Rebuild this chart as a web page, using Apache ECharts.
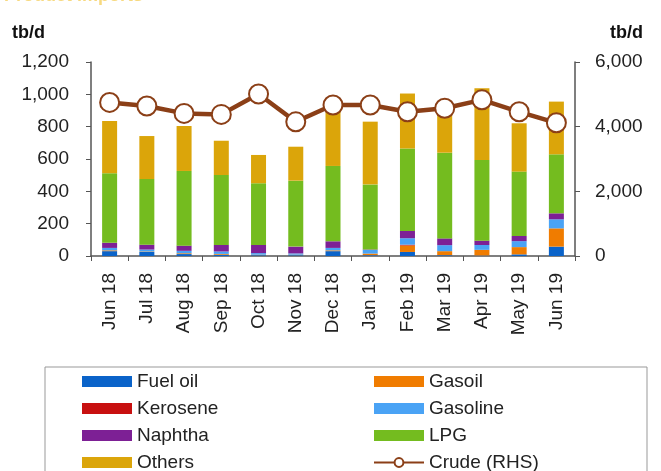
<!DOCTYPE html>
<html>
<head>
<meta charset="utf-8">
<script src="https://cdn.jsdelivr.net/npm/echarts@6/dist/echarts.min.js"></script>
<style>
  html, body { margin: 0; padding: 0; background: #fff; }
  #chart { width: 661px; height: 471px; }
</style>
</head>
<body>
<div id="chart"></div>
<script>
// months on the x axis
const months = ['Jun 18', 'Jul 18', 'Aug 18', 'Sep 18', 'Oct 18', 'Nov 18', 'Dec 18',
  'Jan 19', 'Feb 19', 'Mar 19', 'Apr 19', 'May 19', 'Jun 19'];

// product imports, tb/d (left axis), stacked bottom to top
const fuelOil  = [30, 25, 12, 8, 5, 5, 30, 5, 25, 5, 3, 10, 58];
const gasoil   = [5, 3, 5, 5, 3, 3, 5, 10, 40, 25, 35, 45, 113];
const kerosene = [0, 0, 0, 0, 0, 0, 0, 0, 5, 0, 0, 0, 0];
const gasoline = [15, 12, 15, 15, 10, 8, 15, 22, 40, 37, 30, 37, 56];
const naphtha  = [32, 30, 32, 40, 50, 42, 41, 3, 45, 42, 27, 32, 37];
const lpg      = [430, 406, 462, 433, 382, 408, 466, 403, 510, 530, 499, 398, 365];
const others   = [323, 266, 278, 212, 175, 210, 360, 388, 340, 261, 443, 299, 326];

// crude imports, tb/d (right axis)
const crude = [4750, 4640, 4410, 4380, 5010, 4150, 4670, 4670, 4460, 4570, 4830, 4460, 4120];

const FONT = '"Liberation Sans", Arial, sans-serif';
const axisColor = '#555';

const chart = echarts.init(document.getElementById('chart'));

function barSeries(name, data, color) {
  return {
    name: name,
    type: 'bar',
    stack: 'products',
    barWidth: 15,
    itemStyle: { color: color },
    data: data
  };
}

const withComma = v => v.toLocaleString('en-US');

// two legend columns, same look; bars get plain rect swatches
function legendColumn(left, names) {
  return {
    orient: 'vertical',
    left: left, top: 372, height: 140,
    padding: 0,
    itemWidth: 50, itemHeight: 11, itemGap: 8,
    textStyle: { fontSize: 19, color: '#222', fontFamily: FONT },
    data: names.map(n => n === 'Crude (RHS)' ? { name: n } : { name: n, icon: 'rect' })
  };
}

const option = {
  animation: false,
  textStyle: { fontFamily: FONT },
  grid: { left: 91, right: 86, top: 62, bottom: 215 },
  legend: [
    legendColumn(82, ['Fuel oil', 'Kerosene', 'Naphtha', 'Others']),
    legendColumn(373, ['Gasoil', 'Gasoline', 'LPG', 'Crude (RHS)'])
  ],
  graphic: [
    {
      type: 'rect', silent: true, z: -1,
      shape: { x: 45, y: 367, width: 602, height: 120 },
      style: { fill: 'none', stroke: '#999', lineWidth: 1 }
    },
    {
      type: 'text', left: 12, top: 24,
      style: { text: 'tb/d', font: 'bold 18px ' + FONT, fill: '#111' }
    },
    {
      type: 'text', left: 610, top: 24,
      style: { text: 'tb/d', font: 'bold 18px ' + FONT, fill: '#111' }
    },
    {
      // title cut off at the top edge of the picture
      type: 'text', left: 4, top: -13,
      style: { text: 'Product imports', font: 'bold 18px ' + FONT, fill: '#f0b400', opacity: 0.5 }
    }
  ],
  xAxis: {
    type: 'category',
    data: months,
    axisLine: { lineStyle: { color: axisColor, width: 1.5 } },
    axisTick: { show: true, length: 5, lineStyle: { color: axisColor } },
    axisLabel: { rotate: 90, margin: 17, fontSize: 19, color: '#222', fontFamily: FONT }
  },
  yAxis: [
    {
      type: 'value', min: 0, max: 1200, interval: 200,
      splitLine: { show: false },
      axisLine: { show: true, lineStyle: { color: axisColor, width: 1.5 } },
      axisTick: { show: true, length: 5, lineStyle: { color: axisColor } },
      axisLabel: { fontSize: 19, color: '#222', margin: 22, formatter: withComma, fontFamily: FONT }
    },
    {
      type: 'value', min: 0, max: 6000, interval: 2000,
      splitLine: { show: false },
      axisLine: { show: true, lineStyle: { color: axisColor, width: 1.5 } },
      axisTick: { show: true, length: 5, lineStyle: { color: axisColor } },
      axisLabel: { fontSize: 19, color: '#222', margin: 20, formatter: withComma, fontFamily: FONT }
    }
  ],
  series: [
    barSeries('Fuel oil', fuelOil, '#0a63c9'),
    barSeries('Gasoil', gasoil, '#f07c00'),
    barSeries('Kerosene', kerosene, '#c81010'),
    barSeries('Gasoline', gasoline, '#4aa3f5'),
    barSeries('Naphtha', naphtha, '#7d2095'),
    barSeries('LPG', lpg, '#74bc1f'),
    barSeries('Others', others, '#dba50a'),
    {
      name: 'Crude (RHS)',
      type: 'line',
      yAxisIndex: 1,
      z: 5,
      symbol: 'circle',
      symbolSize: 19,
      showAllSymbol: true,
      lineStyle: { color: '#8b3f17', width: 4.5 },
      itemStyle: { color: '#fff', borderColor: '#8b3f17', borderWidth: 2 },
      data: crude
    }
  ]
};

chart.setOption(option);
</script>
</body>
</html>
